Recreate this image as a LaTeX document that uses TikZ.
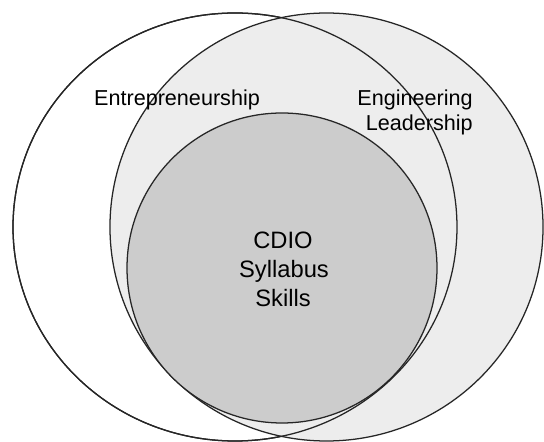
\documentclass[tikz,border=0pt]{standalone}
\usepackage{fontspec}
\setmainfont{Liberation Sans}
\begin{document}
\begin{tikzpicture}[x=0.75pt,y=-0.75pt,
  ring/.style={draw=black!85,line width=0.95pt},
  lab/.style={font=\fontsize{16.2}{18.75}\selectfont,inner sep=0pt},
  corelab/.style={font=\fontsize{17.8}{21.75}\selectfont,inner sep=0pt,align=center}]
\useasboundingbox (0,0) rectangle (544,442);
\fill[white] (0,0) rectangle (544,442);
% left (Entrepreneurship) set
\draw[ring,fill=white] (235,227) ellipse [x radius=166.5pt,y radius=160.5pt];
% right (Engineering Leadership) set
\draw[ring,fill=black!7] (326.5,227) ellipse [x radius=162.4pt,y radius=160.5pt];
\draw[ring] (235,227) ellipse [x radius=166.5pt,y radius=160.5pt];
% inner (CDIO) set
\draw[ring,fill=black!20] (282,268) circle [radius=116.25pt];
\node[lab,anchor=base] (ent) at (177,106) {Entrepreneurship};
\node[lab,anchor=base east] (eng) at (473,106) {Engineering};
\node[lab,anchor=base east] (lead) at (473,131) {Leadership};
\node[corelab,anchor=base] (cdio) at (283,249) {CDIO};
\node[corelab,anchor=base] (syl) at (284,278) {Syllabus};
\node[corelab,anchor=base] (sk) at (283,307) {Skills};
\end{tikzpicture}
\end{document}
